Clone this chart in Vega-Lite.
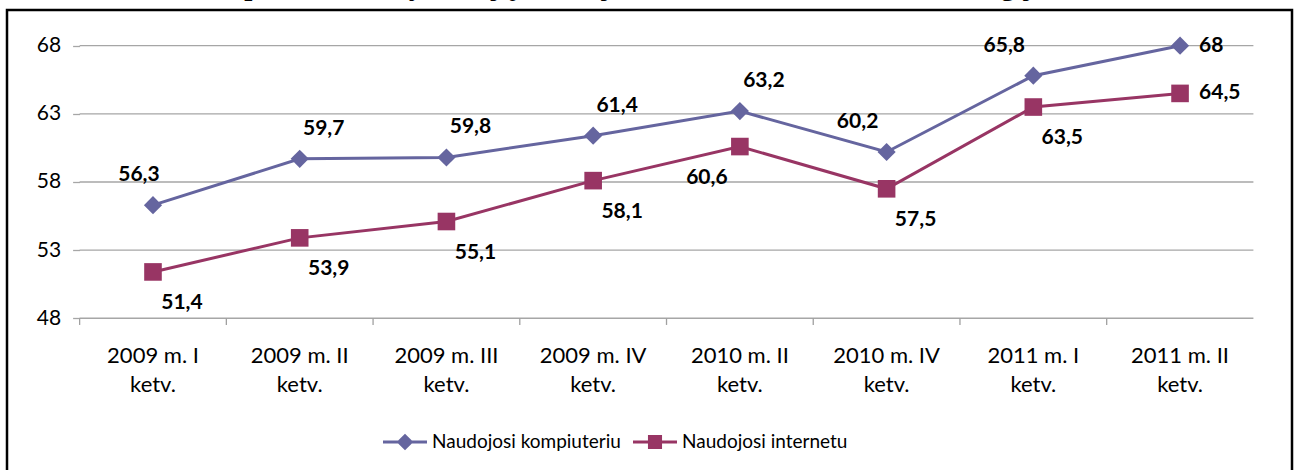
{
  "$schema": "https://vega.github.io/schema/vega-lite/v6.json",
  "width": 1285,
  "height": 462,
  "autosize": {"type": "none"},
  "padding": {"left": 7, "top": 10, "right": 6, "bottom": -2},
  "background": "white",
  "title": {
    "text": "12 paveikslas. Gyventojų naudojimasis informacinėmis technologijomis",
    "font": "Liberation Serif",
    "fontSize": 29,
    "fontWeight": "bold",
    "color": "black",
    "anchor": "middle",
    "frame": "group",
    "baseline": "alphabetic",
    "offset": -14
  },
  "datasets": {
    "main": [
      {"quarter": "2009 m. I ketv.", "series": "Naudojosi kompiuteriu", "value": 56.3},
      {"quarter": "2009 m. II ketv.", "series": "Naudojosi kompiuteriu", "value": 59.7},
      {"quarter": "2009 m. III ketv.", "series": "Naudojosi kompiuteriu", "value": 59.8},
      {"quarter": "2009 m. IV ketv.", "series": "Naudojosi kompiuteriu", "value": 61.4},
      {"quarter": "2010 m. II ketv.", "series": "Naudojosi kompiuteriu", "value": 63.2},
      {"quarter": "2010 m. IV ketv.", "series": "Naudojosi kompiuteriu", "value": 60.2},
      {"quarter": "2011 m. I ketv.", "series": "Naudojosi kompiuteriu", "value": 65.8},
      {"quarter": "2011 m. II ketv.", "series": "Naudojosi kompiuteriu", "value": 68},
      {"quarter": "2009 m. I ketv.", "series": "Naudojosi internetu", "value": 51.4},
      {"quarter": "2009 m. II ketv.", "series": "Naudojosi internetu", "value": 53.9},
      {"quarter": "2009 m. III ketv.", "series": "Naudojosi internetu", "value": 55.1},
      {"quarter": "2009 m. IV ketv.", "series": "Naudojosi internetu", "value": 58.1},
      {"quarter": "2010 m. II ketv.", "series": "Naudojosi internetu", "value": 60.6},
      {"quarter": "2010 m. IV ketv.", "series": "Naudojosi internetu", "value": 57.5},
      {"quarter": "2011 m. I ketv.", "series": "Naudojosi internetu", "value": 63.5},
      {"quarter": "2011 m. II ketv.", "series": "Naudojosi internetu", "value": 64.5}
    ],
    "grid": [{"g": 48}, {"g": 53}, {"g": 58}, {"g": 63}, {"g": 68}]
  },
  "data": {"name": "main"},
  "encoding": {
    "x": {
      "field": "quarter",
      "type": "nominal",
      "bandPosition": 0.5,
      "sort": null,
      "scale": {
        "type": "band",
        "domain": ["2009 m. I ketv.", "2009 m. II ketv.", "2009 m. III ketv.", "2009 m. IV ketv.", "2010 m. II ketv.", "2010 m. IV ketv.", "2011 m. I ketv.", "2011 m. II ketv."],
        "paddingInner": 0,
        "paddingOuter": 0.379,
        "align": 0.653
      },
      "axis": {
        "orient": "bottom",
        "offset": -152,
        "domain": false,
        "ticks": false,
        "grid": false,
        "labelAngle": 0,
        "labelPadding": 25,
        "labelFont": "Lato",
        "labelFontSize": 22,
        "labelColor": "black",
        "labelLineHeight": 29,
        "labelBaseline": "top",
        "labelExpr": "[replace(datum.label, ' ketv.', ''), 'ketv.']",
        "title": null
      }
    },
    "y": {
      "field": "value",
      "type": "quantitative",
      "scale": {"domain": [36.72, 70.62], "nice": false, "zero": false},
      "axis": {
        "values": [48, 53, 58, 63, 68],
        "offset": -72.6,
        "domain": false,
        "grid": false,
        "ticks": true,
        "tickSize": 7,
        "tickColor": "#A6A6A6",
        "tickWidth": 1.3,
        "labelPadding": 12,
        "labelFont": "Lato",
        "labelFontSize": 21,
        "labelColor": "black",
        "title": null
      }
    }
  },
  "layer": [
    {
      "data": {"name": "grid"},
      "mark": {"type": "rule", "color": "#A6A6A6", "strokeWidth": 1.3},
      "encoding": {
        "x": {"datum": "2009 m. I ketv.", "type": "nominal", "bandPosition": 0},
        "x2": {"datum": "2011 m. II ketv.", "bandPosition": 1},
        "y": {"field": "g", "type": "quantitative"}
      }
    },
    {
      "data": {"values": [{}]},
      "mark": {"type": "rule", "color": "#A0A0A0", "strokeWidth": 1.3},
      "encoding": {
        "x": {"datum": "2009 m. I ketv.", "type": "nominal", "bandPosition": 0},
        "y": {"datum": 68, "type": "quantitative"},
        "y2": {"datum": 47.51}
      }
    },
    {
      "transform": [{"filter": "datum.series === 'Naudojosi kompiuteriu'"}],
      "mark": {"type": "rule", "color": "#A0A0A0", "strokeWidth": 1.3},
      "encoding": {
        "x": {"field": "quarter", "type": "nominal", "bandPosition": 0},
        "y": {"datum": 48, "type": "quantitative"},
        "y2": {"datum": 47.51}
      }
    },
    {
      "data": {"values": [{}]},
      "mark": {"type": "rule", "color": "#A0A0A0", "strokeWidth": 1.3},
      "encoding": {
        "x": {"datum": "2011 m. II ketv.", "type": "nominal", "bandPosition": 1},
        "y": {"datum": 48, "type": "quantitative"},
        "y2": {"datum": 47.51}
      }
    },
    {
      "mark": {"type": "line", "strokeWidth": 3},
      "encoding": {
        "color": {
          "field": "series",
          "type": "nominal",
          "scale": {"domain": ["Naudojosi kompiuteriu", "Naudojosi internetu"], "range": ["#65659F", "#983564"]},
          "legend": {
            "orient": "none",
            "direction": "horizontal",
            "legendX": 376,
            "legendY": 410,
            "title": null,
            "padding": 0,
            "symbolSize": 1936,
            "labelFont": "Lato",
            "labelFontSize": 19,
            "labelColor": "black",
            "labelOffset": 5,
            "labelLimit": 0,
            "columnPadding": 12,
            "encode": {
              "symbols": {
                "update": {
                  "shape": {"signal": "datum.value === 'Naudojosi kompiuteriu' ? 'M-1,-0.07H1V0.07H-1Z M0,-0.38L0.38,0L0,0.38L-0.38,0Z' : 'M-1,-0.07H1V0.07H-1Z M-0.32,-0.32H0.32V0.32H-0.32Z'"},
                  "fill": {"scale": "color", "field": "value"},
                  "stroke": {"value": "transparent"},
                  "strokeWidth": {"value": 0},
                  "opacity": {"value": 1}
                }
              }
            }
          }
        }
      }
    },
    {
      "transform": [{"filter": "datum.series === 'Naudojosi kompiuteriu'"}],
      "mark": {"type": "point", "shape": "diamond", "filled": true, "opacity": 1, "size": 330, "color": "#65659F"}
    },
    {
      "transform": [{"filter": "datum.series === 'Naudojosi internetu'"}],
      "mark": {"type": "point", "shape": "square", "filled": true, "opacity": 1, "size": 310, "color": "#983564"}
    },
    {
      "transform": [{"filter": "datum.series === 'Naudojosi kompiuteriu' && indexof(['2009 m. II ketv.', '2009 m. III ketv.', '2009 m. IV ketv.', '2010 m. II ketv.'], datum.quarter) >= 0"}],
      "mark": {"type": "text", "font": "Lato", "fontWeight": "bold", "fontSize": 21, "color": "black", "dx": 24, "dy": -30, "baseline": "middle"},
      "encoding": {"text": {"field": "value", "type": "quantitative", "format": ".1~f"}}
    },
    {
      "transform": [{"filter": "datum.series === 'Naudojosi kompiuteriu' && datum.quarter === '2009 m. I ketv.'"}],
      "mark": {"type": "text", "font": "Lato", "fontWeight": "bold", "fontSize": 21, "color": "black", "dx": -14, "dy": -30, "baseline": "middle"},
      "encoding": {"text": {"field": "value", "type": "quantitative", "format": ".1~f"}}
    },
    {
      "transform": [{"filter": "datum.series === 'Naudojosi kompiuteriu' && indexof(['2010 m. IV ketv.', '2011 m. I ketv.'], datum.quarter) >= 0"}],
      "mark": {"type": "text", "font": "Lato", "fontWeight": "bold", "fontSize": 21, "color": "black", "dx": -29, "dy": -30, "baseline": "middle"},
      "encoding": {"text": {"field": "value", "type": "quantitative", "format": ".1~f"}}
    },
    {
      "transform": [{"filter": "datum.quarter === '2011 m. II ketv.'"}],
      "mark": {"type": "text", "font": "Lato", "fontWeight": "bold", "fontSize": 21, "color": "black", "dx": 19, "dy": 0, "align": "left", "baseline": "middle"},
      "encoding": {"text": {"field": "value", "type": "quantitative", "format": ".1~f"}}
    },
    {
      "transform": [{"filter": "datum.series === 'Naudojosi internetu' && indexof(['2010 m. II ketv.', '2011 m. II ketv.'], datum.quarter) < 0"}],
      "mark": {"type": "text", "font": "Lato", "fontWeight": "bold", "fontSize": 21, "color": "black", "dx": 29, "dy": 31, "baseline": "middle"},
      "encoding": {"text": {"field": "value", "type": "quantitative", "format": ".1~f"}}
    },
    {
      "transform": [{"filter": "datum.series === 'Naudojosi internetu' && datum.quarter === '2010 m. II ketv.'"}],
      "mark": {"type": "text", "font": "Lato", "fontWeight": "bold", "fontSize": 21, "color": "black", "dx": -33, "dy": 31, "baseline": "middle"},
      "encoding": {"text": {"field": "value", "type": "quantitative", "format": ".1~f"}}
    }
  ],
  "config": {
    "view": {"stroke": "black", "strokeWidth": 2.5, "fill": "white"},
    "locale": {"number": {"decimal": ",", "thousands": " ", "grouping": [3], "currency": ["", ""]}}
  }
}
